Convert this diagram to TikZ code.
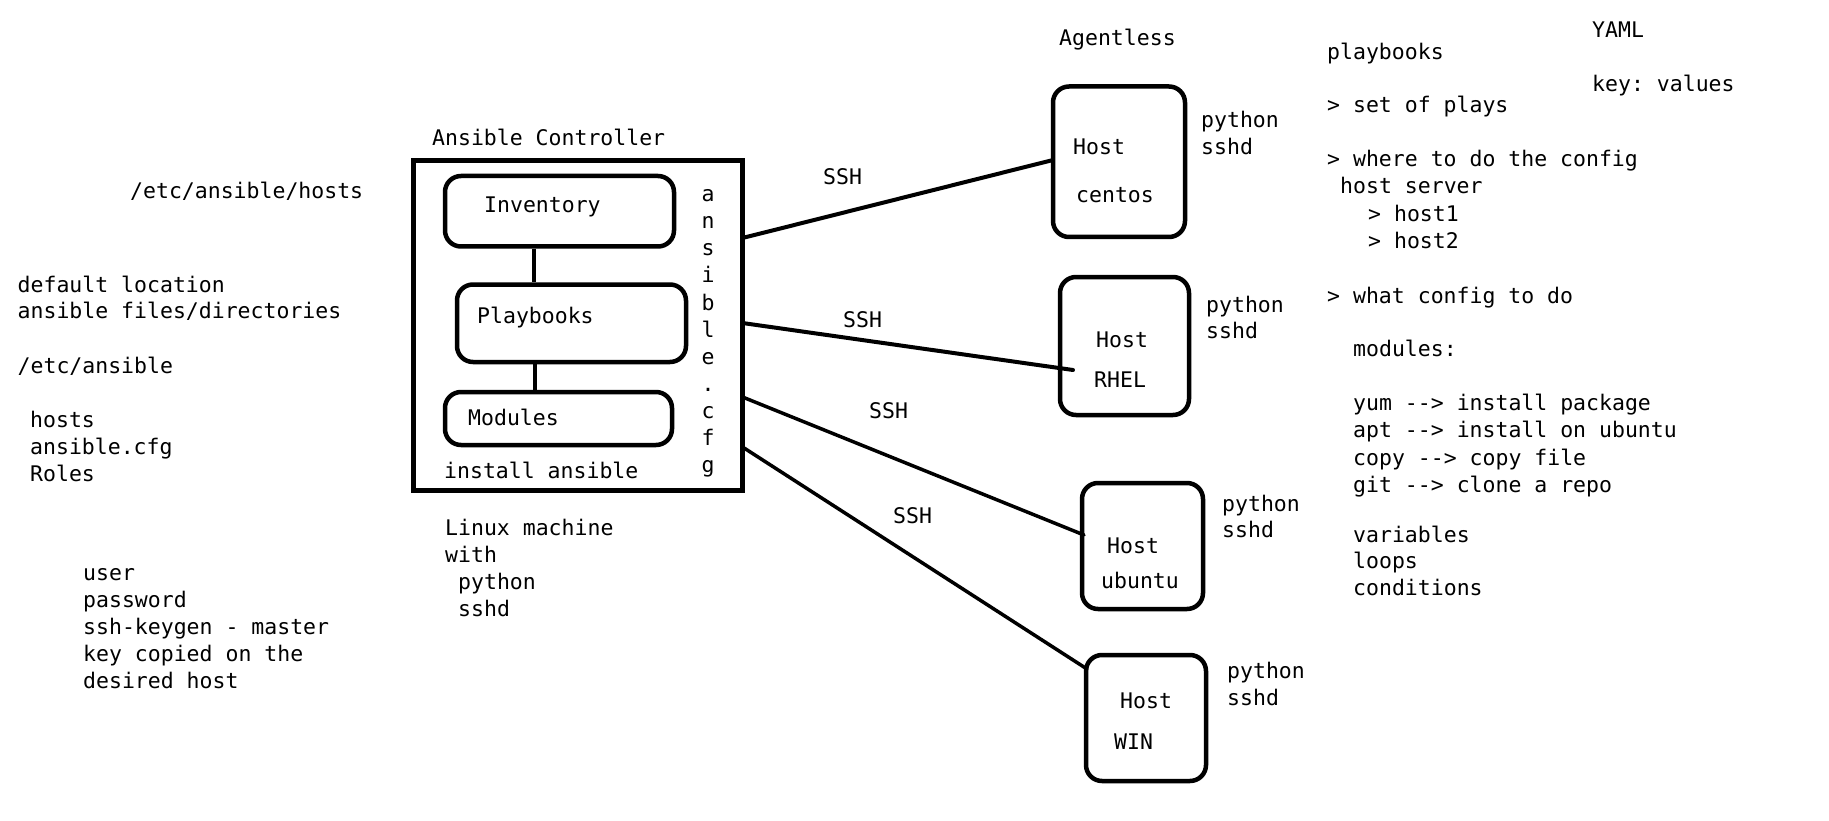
\documentclass[tikz,border=0pt]{standalone}
\usepackage{fontspec}
\setmonofont{DejaVu Sans Mono}
\begin{document}
\begin{tikzpicture}[x=1pt,y=-1pt,
  txt/.style={anchor=base west,inner sep=0pt,font=\fontsize{21.5}{27}\selectfont\ttfamily},
  ltr/.style={anchor=base,inner sep=0pt,font=\fontsize{21.5}{27}\selectfont\ttfamily},
  bigbox/.style={draw,line width=5pt,inner sep=0pt},
  rbox/.style={draw,line width=4.5pt,rounded corners=16pt,inner sep=0pt},
  conn/.style={line width=4pt},
  thin conn/.style={line width=3.5pt}]
\useasboundingbox (0,0) rectangle (1829,821);
\fill[white] (0,0) rectangle (1829,821);

% controller and its boxes
\node[bigbox,minimum width=329.5pt,minimum height=329pt] (ctrl) at (577.75,325.5) {};
\node[rbox,minimum width=229pt,minimum height=70.5pt] (inv) at (559.5,211.25) {};
\node[rbox,minimum width=229pt,minimum height=77.5pt] (pb) at (571.5,323.25) {};
\node[rbox,minimum width=227pt,minimum height=53pt] (mod) at (558.5,418.5) {};
\draw[conn] ([xshift=-25.5pt]inv.south) -- ([xshift=-37.5pt]pb.north);
\draw[conn] ([xshift=-36.5pt]pb.south) -- ([xshift=-23.5pt]mod.north);

% hosts
\node[rbox,minimum width=132pt,minimum height=150.5pt] (centos) at (1119,161.75) {};
\node[rbox,minimum width=129pt,minimum height=138pt] (rhel) at (1124.5,346) {};
\node[rbox,minimum width=121pt,minimum height=126pt] (ubuntu) at (1142.5,546) {};
\node[rbox,minimum width=120pt,minimum height=126pt] (win) at (1146,718) {};

% connector end points
\coordinate (s1) at (742.5,238);
\coordinate (s2) at (742.5,323);
\coordinate (s3) at (742.5,397);
\coordinate (s4) at (742.5,447);
\coordinate (e1) at (1053,160);
\coordinate (e2) at (1073,370);
\coordinate (e3) at (1084,535);
\coordinate (e4) at (1087,669);
\draw[conn,line cap=round] (s1) -- (e1);
\draw[conn,line cap=round] (s2) -- (e2);
\draw[thin conn,line cap=round] (s3) -- (e3);
\draw[thin conn,line cap=round] (s4) -- (e4);

% texts in controller
\node[txt] (tac) at (432,146) {Ansible Controller};
\node[txt] (tinv) at (484,213) {Inventory};
\node[txt] (tpb) at (477,323) {Playbooks};
\node[txt] (tmod) at (468,425) {Modules};
\node[txt] (tinst) at (444,478) {install ansible};
\foreach \c [count=\i from 0] in {a,n,s,i,b,l,e,.,c,f,g}
  \node[ltr] (cfg\i) at (708,202+27*\i) {\c};

% below controller
\node[txt] (lm1) at (445,535) {Linux machine};
\node[txt] (lm2) at (445,562) {with};
\node[txt] (lm3) at (458,589) {python};
\node[txt] (lm4) at (458,616) {sshd};

% left side
\node[txt] (l1) at (130,199) {/etc/ansible/hosts};
\node[txt] (l2) at (17.5,292) {default location};
\node[txt] (l3) at (17.5,318) {ansible files/directories};
\node[txt] (l4) at (17.5,373) {/etc/ansible};
\node[txt] (l5) at (30,427) {hosts};
\node[txt] (l6) at (30,454) {ansible.cfg};
\node[txt] (l7) at (30,481) {Roles};
\node[txt] (u1) at (83,580) {user};
\node[txt] (u2) at (83,607) {password};
\node[txt] (u3) at (83,634) {ssh-keygen - master};
\node[txt] (u4) at (83,661) {key copied on the};
\node[txt] (u5) at (83,688) {desired host};

% SSH labels
\node[txt] (ssh1) at (823,185) {SSH};
\node[txt] (ssh2) at (843,327) {SSH};
\node[txt] (ssh3) at (869,418) {SSH};
\node[txt] (ssh4) at (893,523) {SSH};

% hosts text
\node[txt] (agl) at (1059,46) {Agentless};
\node[txt] (h1a) at (1073,155) {Host};
\node[txt] (h1b) at (1076,203) {centos};
\node[txt] (p1a) at (1201,128) {python};
\node[txt] (p1b) at (1201,155) {sshd};
\node[txt] (h2a) at (1096,347) {Host};
\node[txt] (h2b) at (1094,387) {RHEL};
\node[txt] (p2a) at (1206,312) {python};
\node[txt] (p2b) at (1206,338) {sshd};
\node[txt] (h3a) at (1107,553) {Host};
\node[txt] (h3b) at (1101,588) {ubuntu};
\node[txt] (p3a) at (1222,511) {python};
\node[txt] (p3b) at (1222,537) {sshd};
\node[txt] (h4a) at (1120,708) {Host};
\node[txt] (h4b) at (1114,749) {WIN};
\node[txt] (p4a) at (1227,678) {python};
\node[txt] (p4b) at (1227,705) {sshd};

% right notes
\node[txt] (r1) at (1592,38) {YAML};
\node[txt] (r2) at (1327,60) {playbooks};
\node[txt] (r3) at (1592,92) {key: values};
\node[txt] (r4) at (1327,113) {> set of plays};
\node[txt] (r5) at (1327,167) {> where to do the config};
\node[txt] (r6) at (1340,194) {host server};
\node[txt] (r7) at (1368,222) {> host1};
\node[txt] (r8) at (1368,248) {> host2};
\node[txt] (r9) at (1327,303) {> what config to do};
\node[txt] (r10) at (1353,356) {modules:};
\node[txt] (r11) at (1353,410) {yum --> install package};
\node[txt] (r12) at (1353,437) {apt --> install on ubuntu};
\node[txt] (r13) at (1353,465) {copy --> copy file};
\node[txt] (r14) at (1353,492) {git --> clone a repo};
\node[txt] (r15) at (1353,542) {variables};
\node[txt] (r16) at (1353,568) {loops};
\node[txt] (r17) at (1353,595) {conditions};
\end{tikzpicture}
\end{document}
